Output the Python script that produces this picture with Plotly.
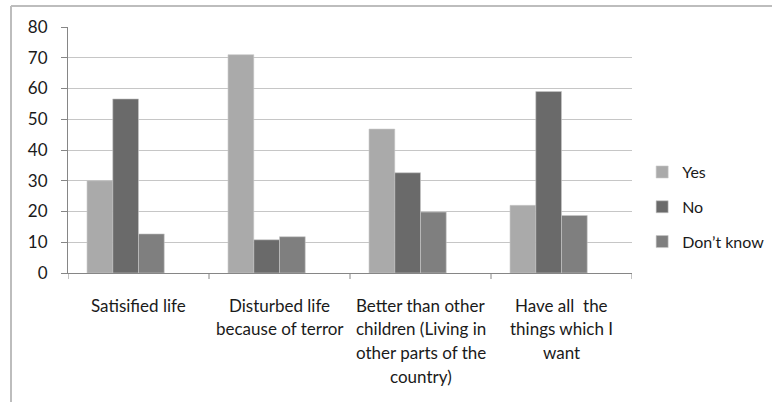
import plotly.graph_objects as go

categories = [
    "Satisified life",
    "Disturbed life<br>because of terror",
    "Better than other<br>children (Living in<br>other parts of the<br>country)",
    "Have all  the<br>things which I<br>want",
]
yes_values = [30, 71, 46.8, 22]
no_values = [56.6, 10.8, 32.6, 59]
dont_know_values = [12.7, 11.8, 19.8, 18.7]

series_names = ["Yes", "No", "Don\u2019t know"]
series_values = [yes_values, no_values, dont_know_values]
series_colors = ["#AAAAAA", "#6A6A6A", "#7F7F7F"]

W, H = 772, 402
ML, MR, MT, MB = 68, 140, 27, 129
plot_w = W - ML - MR
plot_h = H - MT - MB

# four bar slots per category, the last one left empty
slots = 4
bargap = 0.27
slot_w = (1 - bargap) / slots

fig = go.Figure()
for i, (name, vals, col) in enumerate(zip(series_names, series_values, series_colors)):
    fig.add_trace(go.Bar(
        x=list(range(len(categories))),
        y=vals,
        name=name,
        marker=dict(color=col, line=dict(color="#C8C8C8", width=0.6)),
        width=slot_w,
        offset=-(1 - bargap) / 2 + i * slot_w,
        legendgroup=name,
    ))

font_family = "Lato, 'Open Sans', sans-serif"
text_color = "#1a1a1a"

fig.update_layout(
    width=W, height=H,
    margin=dict(l=ML, r=MR, t=MT, b=MB, pad=0, autoexpand=False),
    paper_bgcolor="white",
    plot_bgcolor="white",
    barmode="overlay",
    font=dict(family=font_family, color=text_color),
    showlegend=True,
    legend=dict(
        x=1.018, xanchor="left", y=0.268, yanchor="middle",
        font=dict(size=16, color=text_color),
        tracegroupgap=11,
        itemwidth=30,
        bgcolor="rgba(0,0,0,0)",
    ),
    xaxis=dict(
        range=[-0.5, len(categories) - 0.5],
        tickmode="array",
        tickvals=list(range(len(categories))),
        ticktext=[""] * len(categories),
        showgrid=False,
        showline=True, linecolor="#868686", linewidth=1,
        ticks="",
        zeroline=False,
        fixedrange=True,
    ),
    yaxis=dict(
        range=[0, 80],
        dtick=10,
        showgrid=True, gridcolor="#C6C6C6", gridwidth=1,
        showline=True, linecolor="#868686", linewidth=1,
        ticks="outside", ticklen=6, tickcolor="#868686",
        tickfont=dict(size=17, color=text_color),
        ticklabelstandoff=10,
        zeroline=False,
        fixedrange=True,
    ),
)

# category labels, one annotation per line for the wider line spacing
first_line_offset = 32
line_spacing = 23.7
for k, label in enumerate(categories):
    for j, line in enumerate(label.split("<br>")):
        fig.add_annotation(
            x=k, xref="x", y=0, yref="paper",
            text=line, showarrow=False,
            xanchor="center", yanchor="middle",
            yshift=-(first_line_offset + j * line_spacing),
            font=dict(size=17, color=text_color, family=font_family),
        )

# category boundary tick marks below the x axis
for k in range(len(categories) + 1):
    fig.add_shape(type="line", xref="x", yref="paper",
                  x0=k - 0.5, x1=k - 0.5, y0=0, y1=-6 / plot_h,
                  line=dict(color="#868686", width=1))

# chart frame (left and top edges)
fx = (11 - ML) / plot_w
fy = (plot_h + MT - 6) / plot_h
fig.add_shape(type="line", xref="paper", yref="paper",
              x0=fx, x1=fx, y0=fy, y1=-MB / plot_h - 0.1,
              line=dict(color="#BDBDBD", width=2))
fig.add_shape(type="line", xref="paper", yref="paper",
              x0=fx, x1=(W - ML) / plot_w + 0.1, y0=fy, y1=fy,
              line=dict(color="#BDBDBD", width=2))

fig.write_html("out.html")
